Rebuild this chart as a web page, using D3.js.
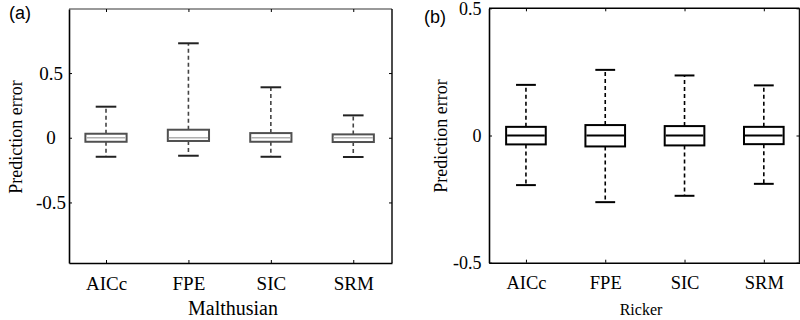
<!DOCTYPE html>
<html><head><meta charset="utf-8">
<script src="https://cdn.jsdelivr.net/npm/d3@7"></script>
<style>body{margin:0;background:#fff}svg{display:block}</style>
</head><body>
<svg id="c" width="800" height="320"></svg>
<script>
const categories = ["AICc","FPE","SIC","SRM"];
const yTicks = [-0.5, 0, 0.5];
const yTickLabels = ["-0.5","0","0.5"];
// Malthusian
const maltLow = [-0.147,-0.139,-0.147,-0.149];
const maltQ1  = [-0.031,-0.025,-0.031,-0.033];
const maltMed = [0,0,0,0];
const maltQ3  = [0.031,0.062,0.036,0.026];
const maltHigh= [0.24,0.73,0.39,0.173];
// Ricker
const rickLow = [-0.195,-0.262,-0.237,-0.19];
const rickQ1  = [-0.035,-0.043,-0.039,-0.034];
const rickMed = [0,0,0,0];
const rickQ3  = [0.034,0.041,0.037,0.034];
const rickHigh= [0.199,0.258,0.236,0.197];

const svg = d3.select("#c");
const serif = "'Liberation Serif','Times New Roman',serif";
const sans = "'Liberation Sans',Arial,sans-serif";

function panel(o){
  const x = d3.scaleLinear().domain(o.xdom).range([o.left,o.right]);
  const y = d3.scaleLinear().domain(o.ydom).range([o.bottom,o.top]);
  const g = svg.append("g");
  const data = categories.map((c,i)=>({c,i:i+1,lo:o.lo[i],q1:o.q1[i],med:o.med[i],q3:o.q3[i],hi:o.hi[i]}));
  const bw = 0.25, cw = 0.125;
  data.forEach(d=>{
    g.append("line").attr("x1",x(d.i)).attr("x2",x(d.i)).attr("y1",y(d.q3)).attr("y2",y(d.hi))
      .attr("stroke",o.whisk).attr("stroke-width",1.6).attr("stroke-dasharray","4,3");
    g.append("line").attr("x1",x(d.i)).attr("x2",x(d.i)).attr("y1",y(d.q1)).attr("y2",y(d.lo))
      .attr("stroke",o.whisk).attr("stroke-width",1.6).attr("stroke-dasharray","4,3");
    [d.lo,d.hi].forEach(v=>g.append("line").attr("x1",x(d.i-cw)).attr("x2",x(d.i+cw)).attr("y1",y(v)).attr("y2",y(v))
      .attr("stroke",o.cap).attr("stroke-width",2));
    g.append("rect").attr("x",x(d.i-bw)).attr("width",x(d.i+bw)-x(d.i-bw))
      .attr("y",y(d.q3)).attr("height",y(d.q1)-y(d.q3))
      .attr("fill","#fff").attr("stroke",o.boxc).attr("stroke-width",2);
    g.append("line").attr("x1",x(d.i-bw)+1).attr("x2",x(d.i+bw)-1).attr("y1",y(d.med)).attr("y2",y(d.med))
      .attr("stroke",o.medc).attr("stroke-width",o.medw);
  });
  g.append("line").attr("x1",o.left).attr("x2",o.right).attr("y1",o.top).attr("y2",o.top).attr("stroke",o.topc).attr("stroke-width",1.5);
  g.append("line").attr("x1",o.right).attr("x2",o.right).attr("y1",o.top).attr("y2",o.bottom).attr("stroke","#111").attr("stroke-width",1.5);
  const xa = d3.axisBottom(x).tickValues([1,2,3,4]).tickFormat((d,i)=>categories[i]).tickSizeInner(-3).tickSizeOuter(0);
  const gx = g.append("g").attr("transform",`translate(0,${o.bottom})`).call(xa);
  gx.select(".domain").attr("stroke","#000").attr("stroke-width",1.6);
  gx.selectAll("text").attr("font-family",serif).attr("font-size",o.xtSize).attr("fill","#000")
    .attr("dy",null).attr("y",o.xtBase-o.bottom);
  const xt = d3.axisTop(x).tickValues([1,2,3,4]).tickFormat("").tickSizeInner(-3).tickSizeOuter(0);
  const gxt = g.append("g").attr("transform",`translate(0,${o.top})`).call(xt);
  gxt.select(".domain").remove();
  const ya = d3.axisLeft(y).tickValues(yTicks).tickFormat((d,i)=>yTickLabels[i]).tickSizeInner(-3).tickSizeOuter(0);
  const gy = g.append("g").attr("transform",`translate(${o.left},0)`).call(ya);
  gy.select(".domain").attr("stroke","#000").attr("stroke-width",1.6);
  gy.selectAll("text").attr("font-family",serif).attr("font-size",o.ytSize).attr("fill","#000")
    .attr("x",o.labelX-o.left).attr("text-anchor",o.yAnchor);
  const yr = d3.axisRight(y).tickValues(yTicks).tickFormat("").tickSizeInner(-3).tickSizeOuter(0);
  const gyr = g.append("g").attr("transform",`translate(${o.right},0)`).call(yr);
  gyr.select(".domain").remove();
  g.append("text").attr("transform",`translate(${o.ylabX},${o.ylabY}) rotate(-90)`)
    .attr("text-anchor","middle").attr("font-family",serif).attr("font-size",18).text("Prediction error");
  g.append("text").attr("x",o.xlabX).attr("y",o.xlabY).attr("text-anchor","middle")
    .attr("font-family",serif).attr("font-size",o.xlabSize).text(o.xlab);
  g.append("text").attr("x",o.tagX).attr("y",o.tagY).attr("font-family",sans).attr("font-size",18).text(o.tag);
}

panel({xdom:[0.551,4.47],left:69,right:392,ydom:[-0.968,0.995],top:9,bottom:263,
  lo:maltLow,q1:maltQ1,med:maltMed,q3:maltQ3,hi:maltHigh,
  whisk:"#444",cap:"#222",boxc:"#505050",medc:"#b0b0b0",medw:1.6,topc:"#777",
  xtSize:19,xtBase:290,ytSize:19,yAnchor:"middle",labelX:51,
  ylabX:21.5,ylabY:137,xlabX:233,xlabY:315,xlabSize:20,xlab:"Malthusian",
  tag:"(a)",tagX:9,tagY:19});
panel({xdom:[0.534,4.45],left:489,right:799.5,ydom:[-0.5,0.5],top:8.3,bottom:262.7,
  lo:rickLow,q1:rickQ1,med:rickMed,q3:rickQ3,hi:rickHigh,
  whisk:"#000",cap:"#000",boxc:"#000",medc:"#000",medw:2,topc:"#000",
  xtSize:18.5,xtBase:289,ytSize:18,yAnchor:"end",labelX:481.5,
  ylabX:447,ylabY:136,xlabX:641,xlabY:315,xlabSize:16,xlab:"Ricker",
  tag:"(b)",tagX:424,tagY:23});
</script>
</body></html>
